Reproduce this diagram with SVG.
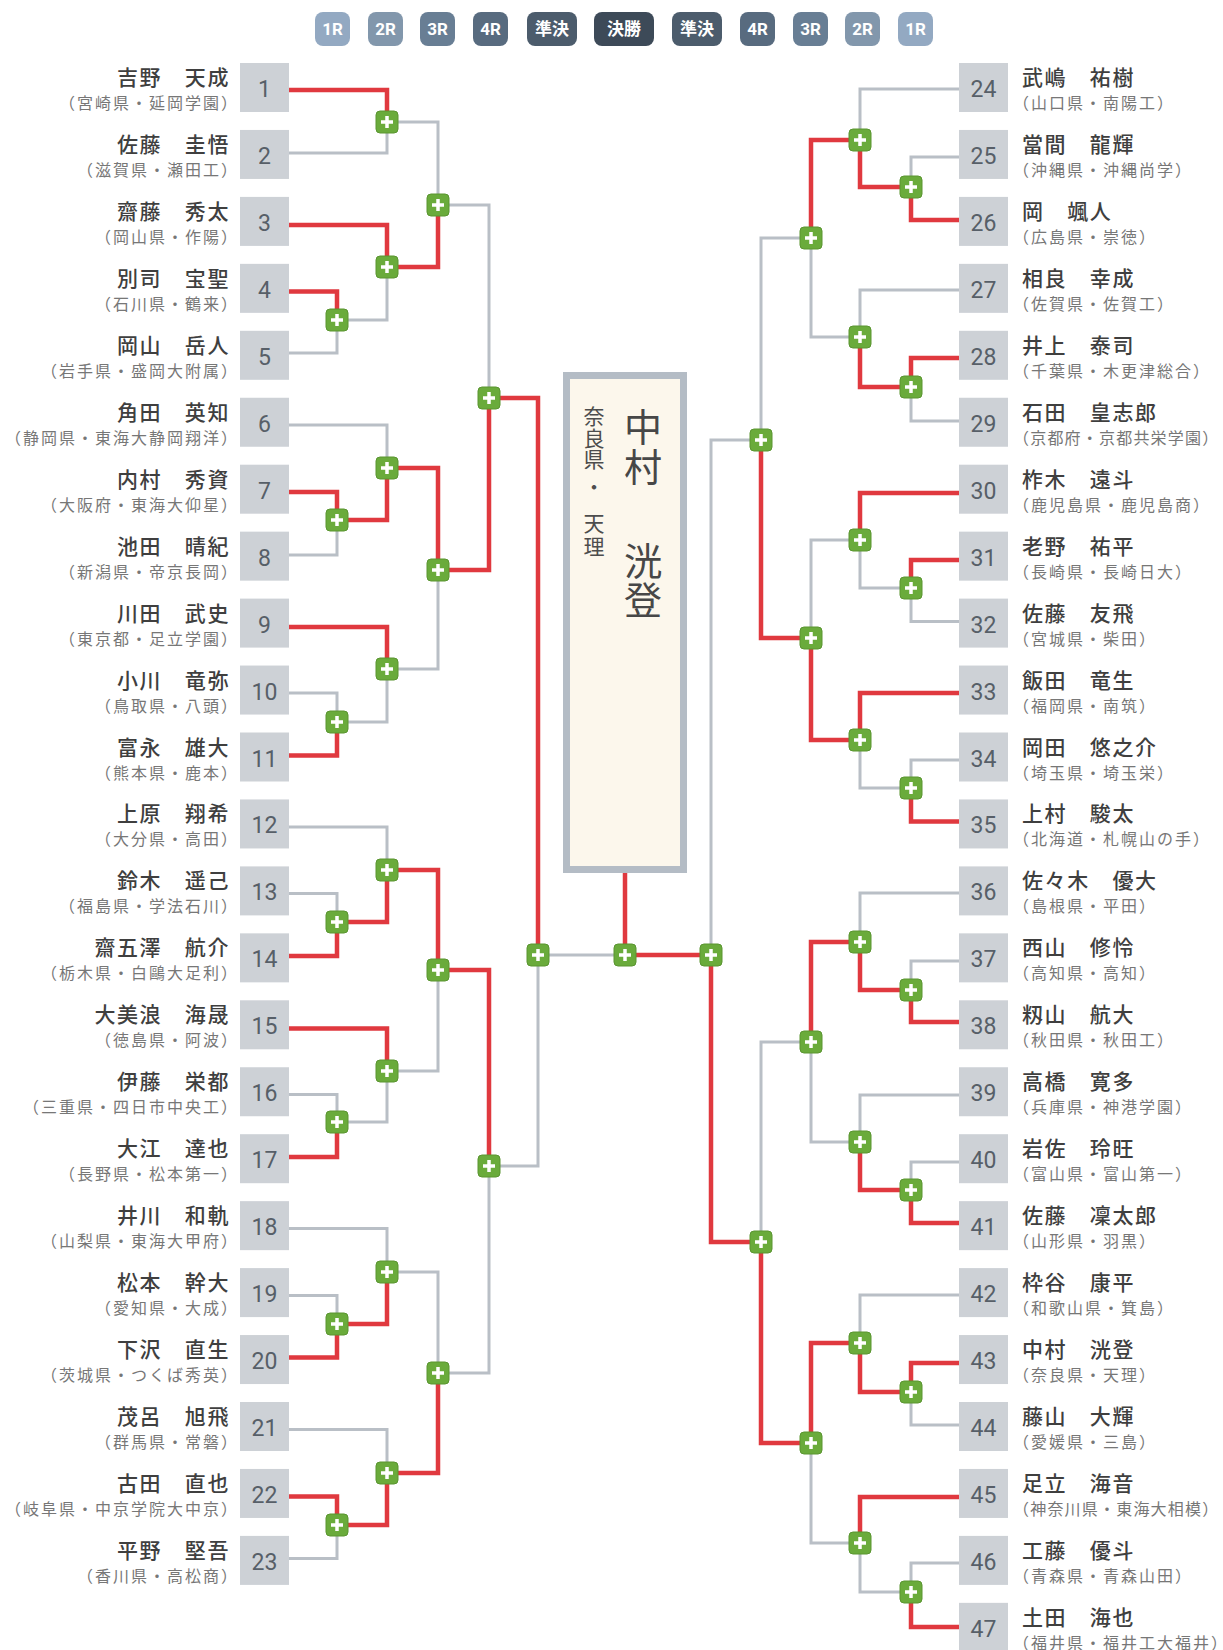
<svg xmlns="http://www.w3.org/2000/svg" xmlns:xlink="http://www.w3.org/1999/xlink" width="1223" height="1650" viewBox="0 0 1223 1650">
<style>
.bg{fill:#ffffff}
.badge text{font-family:"Roboto","Noto Sans CJK JP",sans-serif;font-weight:bold;font-size:17px;fill:#ffffff;text-anchor:middle}
.box{fill:#cdd1d6}
.num{font-family:"Roboto","Liberation Sans",sans-serif;font-size:23px;fill:#575f68;text-anchor:middle}
.nm{font-family:"Noto Sans CJK JP",sans-serif;font-size:21px;font-weight:500;fill:#3f3f3f;letter-spacing:1.6px}
.sc{font-family:"Noto Sans CJK JP",sans-serif;font-size:16px;fill:#777777;letter-spacing:2px}
.sc.tight{letter-spacing:1.2px}
.L .nm,.L .sc{text-anchor:end}
.R .nm,.R .sc{text-anchor:start}
.g{fill:none;stroke:#b9bfc6;stroke-width:3;stroke-linejoin:miter}
.r{fill:none;stroke:#e0393f;stroke-width:4.5;stroke-linejoin:miter}
.wn{font-family:"Noto Sans CJK JP",sans-serif;font-size:38px;fill:#474747;text-anchor:middle}
.ws{font-family:"Noto Sans CJK JP",sans-serif;font-size:21px;fill:#4d4d4d;text-anchor:middle}
</style>
<defs>
<g id="plus"><rect x="-11" y="-11" width="22" height="22" rx="4" fill="#6aab3b" stroke="#5a9530" stroke-width="1"/><rect x="-6" y="-1.75" width="12" height="3.5" fill="#ffffff"/><rect x="-1.75" y="-6" width="3.5" height="12" fill="#ffffff"/></g>
</defs>
<rect class="bg" x="0" y="0" width="1223" height="1650"/>

<g id="rounds" class="badge">
<rect x="315" y="12" width="35" height="34" rx="8" fill="#93a9c2"/><text x="332.5" y="35">1R</text>
<rect x="368" y="12" width="35" height="34" rx="8" fill="#8297ac"/><text x="385.5" y="35">2R</text>
<rect x="420" y="12" width="35" height="34" rx="8" fill="#687e94"/><text x="437.5" y="35">3R</text>
<rect x="473" y="12" width="35" height="34" rx="8" fill="#586b7f"/><text x="490.5" y="35">4R</text>
<rect x="527" y="12" width="50" height="34" rx="8" fill="#4c5c6c"/><text x="552" y="35">準決</text>
<rect x="594" y="12" width="60" height="34" rx="8" fill="#3d4a58"/><text x="624" y="35">決勝</text>
<rect x="672" y="12" width="50" height="34" rx="8" fill="#4c5c6c"/><text x="697" y="35">準決</text>
<rect x="740" y="12" width="35" height="34" rx="8" fill="#586b7f"/><text x="757.5" y="35">4R</text>
<rect x="793" y="12" width="35" height="34" rx="8" fill="#687e94"/><text x="810.5" y="35">3R</text>
<rect x="845" y="12" width="35" height="34" rx="8" fill="#8297ac"/><text x="862.5" y="35">2R</text>
<rect x="898" y="12" width="35" height="34" rx="8" fill="#93a9c2"/><text x="915.5" y="35">1R</text>
</g>

<g id="connectors">
<g id="gray-lines">
<path class="g" d="M289 153H387V122"/>
<path class="g" d="M289 353H337V320"/>
<path class="g" d="M337 320H387V267"/>
<path class="g" d="M387 122H438V205"/>
<path class="g" d="M438 205H489V398"/>
<path class="g" d="M289 425H387V468"/>
<path class="g" d="M289 555H337V520"/>
<path class="g" d="M289 693H337V722"/>
<path class="g" d="M337 722H387V669"/>
<path class="g" d="M387 669H438V570"/>
<path class="g" d="M289 827H387V870"/>
<path class="g" d="M289 893.5H337V922"/>
<path class="g" d="M289 1094.5H337V1122"/>
<path class="g" d="M337 1122H387V1071"/>
<path class="g" d="M387 1071H438V970"/>
<path class="g" d="M289 1228.5H387V1272"/>
<path class="g" d="M289 1295.5H337V1324"/>
<path class="g" d="M387 1272H438V1373"/>
<path class="g" d="M289 1429.5H387V1473"/>
<path class="g" d="M289 1558.5H337V1525"/>
<path class="g" d="M438 1373H489V1166"/>
<path class="g" d="M489 1166H538V955"/>
<path class="g" d="M538 955H625"/>
<path class="g" d="M959 89H860V140"/>
<path class="g" d="M959 157H911V187"/>
<path class="g" d="M959 421H911V387"/>
<path class="g" d="M959 290H860V337"/>
<path class="g" d="M860 337H811V238"/>
<path class="g" d="M811 238H761V440"/>
<path class="g" d="M761 440H711V955"/>
<path class="g" d="M959 621.5H911V588"/>
<path class="g" d="M911 588H860V540"/>
<path class="g" d="M860 540H811V638"/>
<path class="g" d="M959 760H911V788"/>
<path class="g" d="M911 788H860V740"/>
<path class="g" d="M959 893H860V942"/>
<path class="g" d="M959 961H911V990"/>
<path class="g" d="M959 1095H860V1142"/>
<path class="g" d="M959 1162H911V1190"/>
<path class="g" d="M860 1142H811V1042"/>
<path class="g" d="M811 1042H761V1242"/>
<path class="g" d="M959 1295H860V1343"/>
<path class="g" d="M959 1425H911V1392"/>
<path class="g" d="M959 1563H911V1592"/>
<path class="g" d="M911 1592H860V1543"/>
<path class="g" d="M860 1543H811V1443"/>
</g>
<g id="red-lines">
<path class="r" d="M289 90H387V122"/>
<path class="r" d="M289 225H387V267"/>
<path class="r" d="M289 291.5H337V320"/>
<path class="r" d="M387 267H438V205"/>
<path class="r" d="M289 492H337V520"/>
<path class="r" d="M337 520H387V468"/>
<path class="r" d="M387 468H438V570"/>
<path class="r" d="M289 627H387V669"/>
<path class="r" d="M289 755.5H337V722"/>
<path class="r" d="M438 570H489V398"/>
<path class="r" d="M489 398H538V955"/>
<path class="r" d="M289 956H337V922"/>
<path class="r" d="M337 922H387V870"/>
<path class="r" d="M387 870H438V970"/>
<path class="r" d="M289 1028.5H387V1071"/>
<path class="r" d="M289 1157H337V1122"/>
<path class="r" d="M438 970H489V1166"/>
<path class="r" d="M289 1357.5H337V1324"/>
<path class="r" d="M337 1324H387V1272"/>
<path class="r" d="M289 1496.5H337V1525"/>
<path class="r" d="M337 1525H387V1473"/>
<path class="r" d="M387 1473H438V1373"/>
<path class="r" d="M959 220H911V187"/>
<path class="r" d="M911 187H860V140"/>
<path class="r" d="M860 140H811V238"/>
<path class="r" d="M959 358H911V387"/>
<path class="r" d="M911 387H860V337"/>
<path class="r" d="M959 493H860V540"/>
<path class="r" d="M959 560H911V588"/>
<path class="r" d="M959 693H860V740"/>
<path class="r" d="M959 821.5H911V788"/>
<path class="r" d="M860 740H811V638"/>
<path class="r" d="M811 638H761V440"/>
<path class="r" d="M959 1022H911V990"/>
<path class="r" d="M911 990H860V942"/>
<path class="r" d="M860 942H811V1042"/>
<path class="r" d="M959 1223H911V1190"/>
<path class="r" d="M911 1190H860V1142"/>
<path class="r" d="M959 1363H911V1392"/>
<path class="r" d="M911 1392H860V1343"/>
<path class="r" d="M860 1343H811V1443"/>
<path class="r" d="M959 1497H860V1543"/>
<path class="r" d="M959 1627H911V1592"/>
<path class="r" d="M811 1443H761V1242"/>
<path class="r" d="M761 1242H711V955"/>
<path class="r" d="M711 955H625"/>
<path class="r" d="M625 955V872"/>
</g>
</g>

<g id="champion">
<rect x="566.5" y="375.5" width="117" height="494" fill="#fcf7ec" stroke="#b4bcc5" stroke-width="7"/>
<text class="wn" x="643 643 643 643 643" y="441 481 528 575 614">中村　洸登</text>
<text class="ws" x="594 594 594 594 594 594" y="424 445.5 467 495 531 554">奈良県・天理</text>
</g>

<g id="matches">
<use id="m1-2" href="#plus" transform="translate(387,122)"/>
<use id="m4-5" href="#plus" transform="translate(337,320)"/>
<use id="m3-5" href="#plus" transform="translate(387,267)"/>
<use id="m1-5" href="#plus" transform="translate(438,205)"/>
<use id="m7-8" href="#plus" transform="translate(337,520)"/>
<use id="m6-8" href="#plus" transform="translate(387,468)"/>
<use id="m10-11" href="#plus" transform="translate(337,722)"/>
<use id="m9-11" href="#plus" transform="translate(387,669)"/>
<use id="m6-11" href="#plus" transform="translate(438,570)"/>
<use id="m1-11" href="#plus" transform="translate(489,398)"/>
<use id="m13-14" href="#plus" transform="translate(337,922)"/>
<use id="m12-14" href="#plus" transform="translate(387,870)"/>
<use id="m16-17" href="#plus" transform="translate(337,1122)"/>
<use id="m15-17" href="#plus" transform="translate(387,1071)"/>
<use id="m12-17" href="#plus" transform="translate(438,970)"/>
<use id="m19-20" href="#plus" transform="translate(337,1324)"/>
<use id="m18-20" href="#plus" transform="translate(387,1272)"/>
<use id="m22-23" href="#plus" transform="translate(337,1525)"/>
<use id="m21-23" href="#plus" transform="translate(387,1473)"/>
<use id="m18-23" href="#plus" transform="translate(438,1373)"/>
<use id="m12-23" href="#plus" transform="translate(489,1166)"/>
<use id="sf-left" href="#plus" transform="translate(538,955)"/>
<use id="final" href="#plus" transform="translate(625,955)"/>
<use id="sf-right" href="#plus" transform="translate(711,955)"/>
<use id="m25-26" href="#plus" transform="translate(911,187)"/>
<use id="m24-26" href="#plus" transform="translate(860,140)"/>
<use id="m28-29" href="#plus" transform="translate(911,387)"/>
<use id="m27-29" href="#plus" transform="translate(860,337)"/>
<use id="m24-29" href="#plus" transform="translate(811,238)"/>
<use id="m31-32" href="#plus" transform="translate(911,588)"/>
<use id="m30-32" href="#plus" transform="translate(860,540)"/>
<use id="m34-35" href="#plus" transform="translate(911,788)"/>
<use id="m33-35" href="#plus" transform="translate(860,740)"/>
<use id="m30-35" href="#plus" transform="translate(811,638)"/>
<use id="m24-35" href="#plus" transform="translate(761,440)"/>
<use id="m37-38" href="#plus" transform="translate(911,990)"/>
<use id="m36-38" href="#plus" transform="translate(860,942)"/>
<use id="m40-41" href="#plus" transform="translate(911,1190)"/>
<use id="m39-41" href="#plus" transform="translate(860,1142)"/>
<use id="m36-41" href="#plus" transform="translate(811,1042)"/>
<use id="m43-44" href="#plus" transform="translate(911,1392)"/>
<use id="m42-44" href="#plus" transform="translate(860,1343)"/>
<use id="m46-47" href="#plus" transform="translate(911,1592)"/>
<use id="m45-47" href="#plus" transform="translate(860,1543)"/>
<use id="m42-47" href="#plus" transform="translate(811,1443)"/>
<use id="m36-47" href="#plus" transform="translate(761,1242)"/>
</g>

<g id="players-left" class="L">
<g id="p1" transform="translate(0,63)"><rect class="box" x="240" y="0" width="49" height="49"/><text class="num" x="264.5" y="34">1</text><text class="nm" x="230" y="22">吉野　天成</text><text class="sc" x="239" y="46">（宮崎県・延岡学園）</text></g>
<g id="p2" transform="translate(0,129.95)"><rect class="box" x="240" y="0" width="49" height="49"/><text class="num" x="264.5" y="34">2</text><text class="nm" x="230" y="22">佐藤　圭悟</text><text class="sc" x="239" y="46">（滋賀県・瀬田工）</text></g>
<g id="p3" transform="translate(0,196.9)"><rect class="box" x="240" y="0" width="49" height="49"/><text class="num" x="264.5" y="34">3</text><text class="nm" x="230" y="22">齋藤　秀太</text><text class="sc" x="239" y="46">（岡山県・作陽）</text></g>
<g id="p4" transform="translate(0,263.85)"><rect class="box" x="240" y="0" width="49" height="49"/><text class="num" x="264.5" y="34">4</text><text class="nm" x="230" y="22">別司　宝聖</text><text class="sc" x="239" y="46">（石川県・鶴来）</text></g>
<g id="p5" transform="translate(0,330.8)"><rect class="box" x="240" y="0" width="49" height="49"/><text class="num" x="264.5" y="34">5</text><text class="nm" x="230" y="22">岡山　岳人</text><text class="sc" x="239" y="46">（岩手県・盛岡大附属）</text></g>
<g id="p6" transform="translate(0,397.75)"><rect class="box" x="240" y="0" width="49" height="49"/><text class="num" x="264.5" y="34">6</text><text class="nm" x="230" y="22">角田　英知</text><text class="sc" x="239" y="46">（静岡県・東海大静岡翔洋）</text></g>
<g id="p7" transform="translate(0,464.7)"><rect class="box" x="240" y="0" width="49" height="49"/><text class="num" x="264.5" y="34">7</text><text class="nm" x="230" y="22">内村　秀資</text><text class="sc" x="239" y="46">（大阪府・東海大仰星）</text></g>
<g id="p8" transform="translate(0,531.65)"><rect class="box" x="240" y="0" width="49" height="49"/><text class="num" x="264.5" y="34">8</text><text class="nm" x="230" y="22">池田　晴紀</text><text class="sc" x="239" y="46">（新潟県・帝京長岡）</text></g>
<g id="p9" transform="translate(0,598.6)"><rect class="box" x="240" y="0" width="49" height="49"/><text class="num" x="264.5" y="34">9</text><text class="nm" x="230" y="22">川田　武史</text><text class="sc" x="239" y="46">（東京都・足立学園）</text></g>
<g id="p10" transform="translate(0,665.55)"><rect class="box" x="240" y="0" width="49" height="49"/><text class="num" x="264.5" y="34">10</text><text class="nm" x="230" y="22">小川　竜弥</text><text class="sc" x="239" y="46">（鳥取県・八頭）</text></g>
<g id="p11" transform="translate(0,732.5)"><rect class="box" x="240" y="0" width="49" height="49"/><text class="num" x="264.5" y="34">11</text><text class="nm" x="230" y="22">富永　雄大</text><text class="sc" x="239" y="46">（熊本県・鹿本）</text></g>
<g id="p12" transform="translate(0,799.45)"><rect class="box" x="240" y="0" width="49" height="49"/><text class="num" x="264.5" y="34">12</text><text class="nm" x="230" y="22">上原　翔希</text><text class="sc" x="239" y="46">（大分県・高田）</text></g>
<g id="p13" transform="translate(0,866.4)"><rect class="box" x="240" y="0" width="49" height="49"/><text class="num" x="264.5" y="34">13</text><text class="nm" x="230" y="22">鈴木　遥己</text><text class="sc" x="239" y="46">（福島県・学法石川）</text></g>
<g id="p14" transform="translate(0,933.35)"><rect class="box" x="240" y="0" width="49" height="49"/><text class="num" x="264.5" y="34">14</text><text class="nm" x="230" y="22">齋五澤　航介</text><text class="sc" x="239" y="46">（栃木県・白鷗大足利）</text></g>
<g id="p15" transform="translate(0,1000.3)"><rect class="box" x="240" y="0" width="49" height="49"/><text class="num" x="264.5" y="34">15</text><text class="nm" x="230" y="22">大美浪　海晟</text><text class="sc" x="239" y="46">（徳島県・阿波）</text></g>
<g id="p16" transform="translate(0,1067.25)"><rect class="box" x="240" y="0" width="49" height="49"/><text class="num" x="264.5" y="34">16</text><text class="nm" x="230" y="22">伊藤　栄都</text><text class="sc" x="239" y="46">（三重県・四日市中央工）</text></g>
<g id="p17" transform="translate(0,1134.2)"><rect class="box" x="240" y="0" width="49" height="49"/><text class="num" x="264.5" y="34">17</text><text class="nm" x="230" y="22">大江　達也</text><text class="sc" x="239" y="46">（長野県・松本第一）</text></g>
<g id="p18" transform="translate(0,1201.15)"><rect class="box" x="240" y="0" width="49" height="49"/><text class="num" x="264.5" y="34">18</text><text class="nm" x="230" y="22">井川　和軌</text><text class="sc" x="239" y="46">（山梨県・東海大甲府）</text></g>
<g id="p19" transform="translate(0,1268.1)"><rect class="box" x="240" y="0" width="49" height="49"/><text class="num" x="264.5" y="34">19</text><text class="nm" x="230" y="22">松本　幹大</text><text class="sc" x="239" y="46">（愛知県・大成）</text></g>
<g id="p20" transform="translate(0,1335.05)"><rect class="box" x="240" y="0" width="49" height="49"/><text class="num" x="264.5" y="34">20</text><text class="nm" x="230" y="22">下沢　直生</text><text class="sc" x="239" y="46">（茨城県・つくば秀英）</text></g>
<g id="p21" transform="translate(0,1402)"><rect class="box" x="240" y="0" width="49" height="49"/><text class="num" x="264.5" y="34">21</text><text class="nm" x="230" y="22">茂呂　旭飛</text><text class="sc" x="239" y="46">（群馬県・常磐）</text></g>
<g id="p22" transform="translate(0,1468.95)"><rect class="box" x="240" y="0" width="49" height="49"/><text class="num" x="264.5" y="34">22</text><text class="nm" x="230" y="22">古田　直也</text><text class="sc" x="239" y="46">（岐阜県・中京学院大中京）</text></g>
<g id="p23" transform="translate(0,1535.9)"><rect class="box" x="240" y="0" width="49" height="49"/><text class="num" x="264.5" y="34">23</text><text class="nm" x="230" y="22">平野　堅吾</text><text class="sc" x="239" y="46">（香川県・高松商）</text></g>
</g>

<g id="players-right" class="R">
<g id="p24" transform="translate(0,63)"><rect class="box" x="959" y="0" width="49" height="49"/><text class="num" x="983.5" y="34">24</text><text class="nm" x="1022" y="22">武嶋　祐樹</text><text class="sc" x="1013" y="46">（山口県・南陽工）</text></g>
<g id="p25" transform="translate(0,129.95)"><rect class="box" x="959" y="0" width="49" height="49"/><text class="num" x="983.5" y="34">25</text><text class="nm" x="1022" y="22">當間　龍輝</text><text class="sc" x="1013" y="46">（沖縄県・沖縄尚学）</text></g>
<g id="p26" transform="translate(0,196.9)"><rect class="box" x="959" y="0" width="49" height="49"/><text class="num" x="983.5" y="34">26</text><text class="nm" x="1022" y="22">岡　颯人</text><text class="sc" x="1013" y="46">（広島県・崇徳）</text></g>
<g id="p27" transform="translate(0,263.85)"><rect class="box" x="959" y="0" width="49" height="49"/><text class="num" x="983.5" y="34">27</text><text class="nm" x="1022" y="22">相良　幸成</text><text class="sc" x="1013" y="46">（佐賀県・佐賀工）</text></g>
<g id="p28" transform="translate(0,330.8)"><rect class="box" x="959" y="0" width="49" height="49"/><text class="num" x="983.5" y="34">28</text><text class="nm" x="1022" y="22">井上　泰司</text><text class="sc" x="1013" y="46">（千葉県・木更津総合）</text></g>
<g id="p29" transform="translate(0,397.75)"><rect class="box" x="959" y="0" width="49" height="49"/><text class="num" x="983.5" y="34">29</text><text class="nm" x="1022" y="22">石田　皇志郎</text><text class="sc tight" x="1013" y="46">（京都府・京都共栄学園）</text></g>
<g id="p30" transform="translate(0,464.7)"><rect class="box" x="959" y="0" width="49" height="49"/><text class="num" x="983.5" y="34">30</text><text class="nm" x="1022" y="22">柞木　遠斗</text><text class="sc" x="1013" y="46">（鹿児島県・鹿児島商）</text></g>
<g id="p31" transform="translate(0,531.65)"><rect class="box" x="959" y="0" width="49" height="49"/><text class="num" x="983.5" y="34">31</text><text class="nm" x="1022" y="22">老野　祐平</text><text class="sc" x="1013" y="46">（長崎県・長崎日大）</text></g>
<g id="p32" transform="translate(0,598.6)"><rect class="box" x="959" y="0" width="49" height="49"/><text class="num" x="983.5" y="34">32</text><text class="nm" x="1022" y="22">佐藤　友飛</text><text class="sc" x="1013" y="46">（宮城県・柴田）</text></g>
<g id="p33" transform="translate(0,665.55)"><rect class="box" x="959" y="0" width="49" height="49"/><text class="num" x="983.5" y="34">33</text><text class="nm" x="1022" y="22">飯田　竜生</text><text class="sc" x="1013" y="46">（福岡県・南筑）</text></g>
<g id="p34" transform="translate(0,732.5)"><rect class="box" x="959" y="0" width="49" height="49"/><text class="num" x="983.5" y="34">34</text><text class="nm" x="1022" y="22">岡田　悠之介</text><text class="sc" x="1013" y="46">（埼玉県・埼玉栄）</text></g>
<g id="p35" transform="translate(0,799.45)"><rect class="box" x="959" y="0" width="49" height="49"/><text class="num" x="983.5" y="34">35</text><text class="nm" x="1022" y="22">上村　駿太</text><text class="sc" x="1013" y="46">（北海道・札幌山の手）</text></g>
<g id="p36" transform="translate(0,866.4)"><rect class="box" x="959" y="0" width="49" height="49"/><text class="num" x="983.5" y="34">36</text><text class="nm" x="1022" y="22">佐々木　優大</text><text class="sc" x="1013" y="46">（島根県・平田）</text></g>
<g id="p37" transform="translate(0,933.35)"><rect class="box" x="959" y="0" width="49" height="49"/><text class="num" x="983.5" y="34">37</text><text class="nm" x="1022" y="22">西山　修怜</text><text class="sc" x="1013" y="46">（高知県・高知）</text></g>
<g id="p38" transform="translate(0,1000.3)"><rect class="box" x="959" y="0" width="49" height="49"/><text class="num" x="983.5" y="34">38</text><text class="nm" x="1022" y="22">籾山　航大</text><text class="sc" x="1013" y="46">（秋田県・秋田工）</text></g>
<g id="p39" transform="translate(0,1067.25)"><rect class="box" x="959" y="0" width="49" height="49"/><text class="num" x="983.5" y="34">39</text><text class="nm" x="1022" y="22">高橋　寛多</text><text class="sc" x="1013" y="46">（兵庫県・神港学園）</text></g>
<g id="p40" transform="translate(0,1134.2)"><rect class="box" x="959" y="0" width="49" height="49"/><text class="num" x="983.5" y="34">40</text><text class="nm" x="1022" y="22">岩佐　玲旺</text><text class="sc" x="1013" y="46">（富山県・富山第一）</text></g>
<g id="p41" transform="translate(0,1201.15)"><rect class="box" x="959" y="0" width="49" height="49"/><text class="num" x="983.5" y="34">41</text><text class="nm" x="1022" y="22">佐藤　凜太郎</text><text class="sc" x="1013" y="46">（山形県・羽黒）</text></g>
<g id="p42" transform="translate(0,1268.1)"><rect class="box" x="959" y="0" width="49" height="49"/><text class="num" x="983.5" y="34">42</text><text class="nm" x="1022" y="22">枠谷　康平</text><text class="sc" x="1013" y="46">（和歌山県・箕島）</text></g>
<g id="p43" transform="translate(0,1335.05)"><rect class="box" x="959" y="0" width="49" height="49"/><text class="num" x="983.5" y="34">43</text><text class="nm" x="1022" y="22">中村　洸登</text><text class="sc" x="1013" y="46">（奈良県・天理）</text></g>
<g id="p44" transform="translate(0,1402)"><rect class="box" x="959" y="0" width="49" height="49"/><text class="num" x="983.5" y="34">44</text><text class="nm" x="1022" y="22">藤山　大輝</text><text class="sc" x="1013" y="46">（愛媛県・三島）</text></g>
<g id="p45" transform="translate(0,1468.95)"><rect class="box" x="959" y="0" width="49" height="49"/><text class="num" x="983.5" y="34">45</text><text class="nm" x="1022" y="22">足立　海音</text><text class="sc tight" x="1013" y="46">（神奈川県・東海大相模）</text></g>
<g id="p46" transform="translate(0,1535.9)"><rect class="box" x="959" y="0" width="49" height="49"/><text class="num" x="983.5" y="34">46</text><text class="nm" x="1022" y="22">工藤　優斗</text><text class="sc" x="1013" y="46">（青森県・青森山田）</text></g>
<g id="p47" transform="translate(0,1602.85)"><rect class="box" x="959" y="0" width="49" height="49"/><text class="num" x="983.5" y="34">47</text><text class="nm" x="1022" y="22">土田　海也</text><text class="sc" x="1013" y="46">（福井県・福井工大福井）</text></g>
</g>
</svg>
